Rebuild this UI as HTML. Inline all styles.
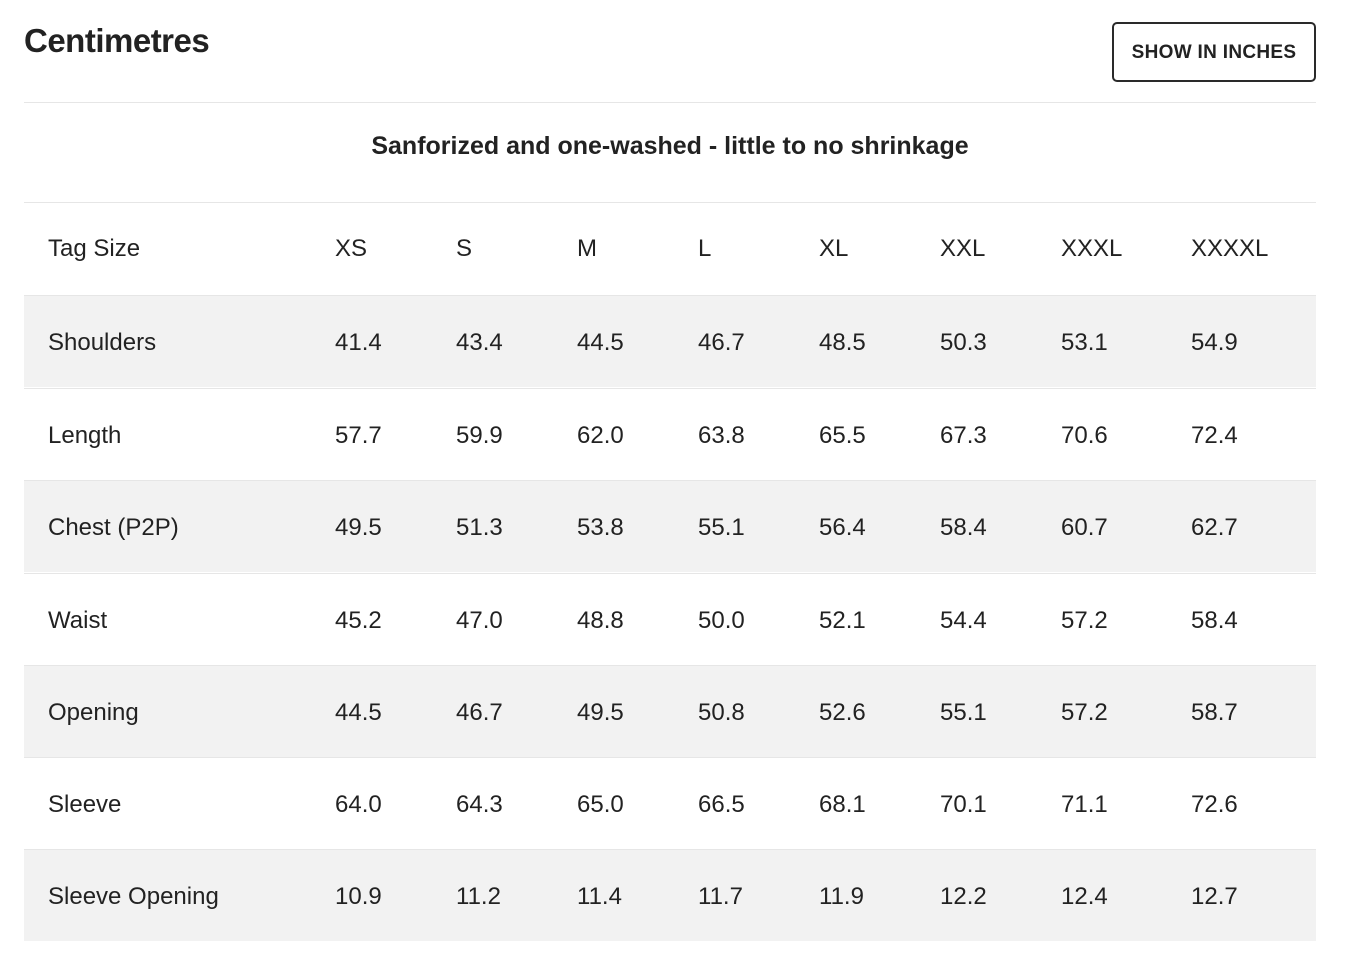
<!DOCTYPE html>
<html><head><meta charset="utf-8"><style>
body{margin:0;width:1350px;height:960px;background:#fff;font-family:"Liberation Sans",sans-serif;color:#222;position:relative;overflow:hidden}
.a{position:absolute}
.title{left:24px;top:22px;font-size:33px;font-weight:bold;letter-spacing:-0.5px}
.btn{left:1112px;top:22px;width:200px;height:56px;border:2px solid #2a2a2a;border-radius:5px;font-size:19px;font-weight:bold;text-align:center;line-height:58px;letter-spacing:0.3px}
.hr{left:24px;width:1292px;height:1px;background:#e6e6e6}
.sub{left:24px;width:1292px;top:132px;text-align:center;font-size:25px;font-weight:bold}
.row{left:24px;width:1292px;height:92px;border-top:1px solid #e6e6e6;box-sizing:border-box}
.g{background:#f2f2f2}
.c{font-size:24px;line-height:28px}
</style></head><body>
<div class="a title">Centimetres</div>
<div class="a btn">SHOW IN INCHES</div>
<div class="a hr" style="top:102px"></div>
<div class="a sub">Sanforized and one-washed - little to no shrinkage</div>
<div class="a hr" style="top:202px"></div>
<div id="tbl"></div>
<script>
const sizes=["XS","S","M","L","XL","XXL","XXXL","XXXXL"];
const labels=["Shoulders","Length","Chest (P2P)","Waist","Opening","Sleeve","Sleeve Opening"];
const values=[
["41.4","43.4","44.5","46.7","48.5","50.3","53.1","54.9"],
["57.7","59.9","62.0","63.8","65.5","67.3","70.6","72.4"],
["49.5","51.3","53.8","55.1","56.4","58.4","60.7","62.7"],
["45.2","47.0","48.8","50.0","52.1","54.4","57.2","58.4"],
["44.5","46.7","49.5","50.8","52.6","55.1","57.2","58.7"],
["64.0","64.3","65.0","66.5","68.1","70.1","71.1","72.6"],
["10.9","11.2","11.4","11.7","11.9","12.2","12.4","12.7"]];
const colX=[335,456,577,698,819,940,1061,1191];
const rowTop=[295,388,480,573,665,757,849];
const tbl=document.getElementById('tbl');
function cell(txt,x,y,name){const d=document.createElement('div');d.className='a c';d.style.left=x+'px';d.style.top=y+'px';d.textContent=txt;


tbl.appendChild(d);}
cell("Tag Size",48,235,'header-tag-size');
sizes.forEach((s,i)=>cell(s,colX[i],235,'header-'+s.toLowerCase()));
labels.forEach((l,r)=>{
const row=document.createElement('div');row.className='a row'+(r%2===0?' g':'');row.style.top=rowTop[r]+'px';


tbl.appendChild(row);
const y=rowTop[r]+34;
cell(l,48,y,'row-label');
values[r].forEach((v,i)=>cell(v,colX[i],y,'value-cell'));
});
</script>
</body></html>
